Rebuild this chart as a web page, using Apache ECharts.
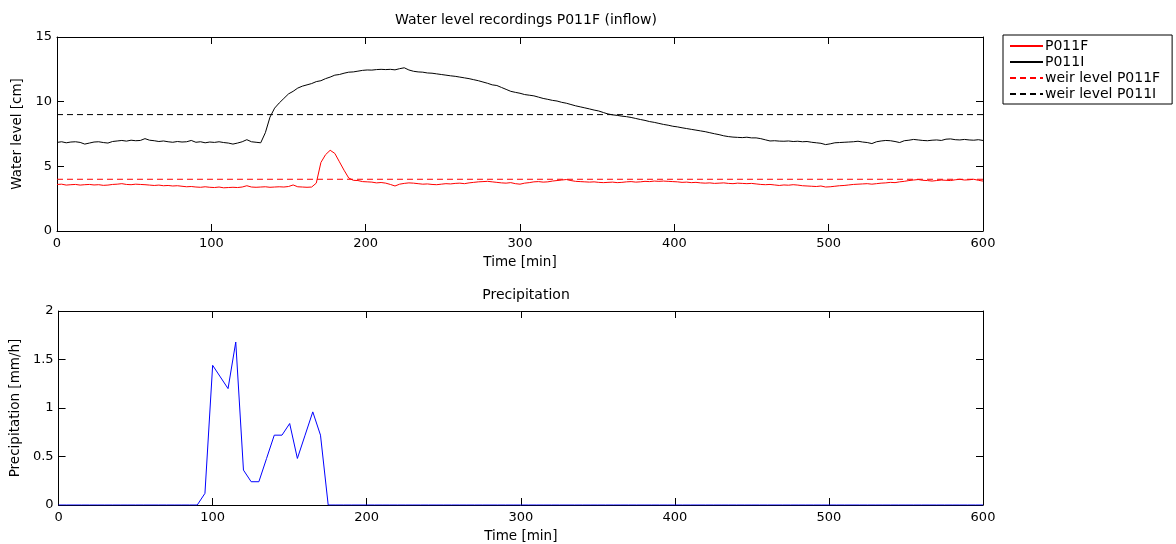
<!DOCTYPE html>
<html>
<head>
<meta charset="utf-8">
<script src="https://cdn.jsdelivr.net/npm/echarts@6/dist/echarts.min.js"></script>
<style>
html,body{margin:0;padding:0;background:#fff;}
#chart{width:1176px;height:544px;}
</style>
</head>
<body>
<div id="chart"></div>
<script>
// ---- Data ----
const xTicks = [0, 100, 200, 300, 400, 500, 600];
const waterStepMin = 3; // sampling step of water level arrays (minutes)
// P011F water level [cm], every 3 min from 0 to 600
const p011F = [
3.6,3.62,3.55,3.58,3.6,3.55,3.58,3.6,3.56,3.58,
3.53,3.55,3.6,3.62,3.66,3.6,3.58,3.62,3.6,3.58,
3.55,3.52,3.55,3.5,3.52,3.48,3.5,3.46,3.42,3.44,
3.4,3.38,3.42,3.38,3.36,3.4,3.34,3.36,3.38,3.36,
3.4,3.5,3.4,3.38,3.4,3.42,3.38,3.4,3.42,3.4,
3.44,3.56,3.42,3.4,3.38,3.4,3.7,5.3,5.9,6.24,
6.0,5.35,4.7,4.1,3.92,3.9,3.82,3.8,3.78,3.72,
3.75,3.7,3.6,3.48,3.62,3.68,3.72,3.7,3.66,3.62,
3.64,3.6,3.58,3.62,3.66,3.64,3.68,3.7,3.66,3.72,
3.76,3.8,3.82,3.84,3.8,3.76,3.72,3.7,3.74,3.66,
3.62,3.7,3.74,3.8,3.82,3.78,3.8,3.86,3.9,3.94,
3.98,3.9,3.84,3.82,3.8,3.78,3.8,3.76,3.74,3.76,
3.78,3.74,3.76,3.8,3.82,3.78,3.8,3.84,3.82,3.86,
3.84,3.86,3.84,3.82,3.8,3.76,3.78,3.74,3.76,3.72,
3.7,3.72,3.68,3.7,3.72,3.68,3.66,3.7,3.68,3.66,
3.68,3.64,3.6,3.58,3.6,3.56,3.52,3.56,3.54,3.58,
3.55,3.5,3.48,3.46,3.44,3.48,3.4,3.42,3.46,3.5,
3.52,3.56,3.6,3.62,3.64,3.66,3.62,3.66,3.7,3.72,
3.76,3.74,3.8,3.84,3.9,3.94,3.98,3.92,3.9,3.86,
3.9,3.94,3.92,3.9,3.96,4.0,3.94,3.96,4.0,3.92,
3.86
];
// P011I water level [cm], every 3 min from 0 to 600
const p011I = [
6.85,6.9,6.82,6.88,6.9,6.85,6.72,6.8,6.88,6.9,
6.84,6.8,6.92,6.96,7.0,6.95,7.02,6.98,7.0,7.14,
7.02,6.98,6.92,6.96,6.9,6.86,6.92,6.88,6.9,7.0,
6.86,6.9,6.82,6.88,6.85,6.9,6.84,6.8,6.72,6.8,
6.9,7.06,6.9,6.86,6.82,7.6,8.8,9.5,9.9,10.25,
10.6,10.8,11.05,11.2,11.3,11.4,11.55,11.62,11.78,11.9,
12.05,12.1,12.2,12.28,12.3,12.36,12.42,12.45,12.44,12.48,
12.5,12.48,12.5,12.46,12.55,12.62,12.45,12.35,12.3,12.28,
12.22,12.2,12.15,12.1,12.05,12.0,11.96,11.9,11.84,11.78,
11.7,11.62,11.52,11.42,11.3,11.25,11.1,10.95,10.8,10.72,
10.65,10.55,10.5,10.45,10.35,10.25,10.18,10.1,10.05,9.95,
9.88,9.78,9.68,9.6,9.52,9.44,9.35,9.28,9.16,9.05,
8.98,8.94,8.88,8.84,8.78,8.7,8.62,8.55,8.46,8.4,
8.32,8.24,8.18,8.1,8.05,7.98,7.92,7.86,7.8,7.74,
7.68,7.6,7.52,7.45,7.36,7.3,7.26,7.24,7.22,7.25,
7.2,7.2,7.14,7.05,6.96,6.98,6.95,6.94,6.96,6.92,
6.94,6.9,6.92,6.86,6.82,6.78,6.68,6.74,6.82,6.84,
6.86,6.88,6.9,6.94,6.88,6.84,6.76,6.9,6.96,7.0,
6.98,6.92,6.84,6.98,7.02,7.08,7.04,7.0,6.98,7.02,
7.04,7.0,7.1,7.12,7.06,7.04,7.08,7.04,7.02,7.06,
7.0
];
const weirP011F = 4;
const weirP011I = 9;
const precipStepMin = 5;
// Precipitation [mm/h], every 5 min from 0 to 600
const precipitation = [
0,0,0,0,0,0,0,0,0,0,
0,0,0,0,0,0,0,0,0,0.12,
1.44,1.32,1.2,1.68,0.36,0.24,0.24,0.48,0.72,0.72,
0.84,0.48,0.72,0.96,0.72,0,0,0,0,0,
0,0,0,0,0,0,0,0,0,0,
0,0,0,0,0,0,0,0,0,0,
0,0,0,0,0,0,0,0,0,0,
0,0,0,0,0,0,0,0,0,0,
0,0,0,0,0,0,0,0,0,0,
0,0,0,0,0,0,0,0,0,0,
0,0,0,0,0,0,0,0,0,0,
0,0,0,0,0,0,0,0,0,0,
0
];

// ---- Build ----
const toPairs = (arr, step) => arr.map((v, i) => [i * step, v]);
const FONT = '"DejaVu Sans", Verdana, sans-serif';
const chart = echarts.init(document.getElementById('chart'), null, {renderer: 'canvas'});

const axisBase = {
  axisLine: {show: true, onZero: false, lineStyle: {color: '#000', width: 1}},
  splitLine: {show: false},
};
function xAxes(gridIndex) {
  return [
    Object.assign({}, axisBase, {
      type: 'value', gridIndex, min: 0, max: 600, interval: 100, position: 'bottom',
      axisTick: {show: true, inside: true, length: 7, lineStyle: {color: '#000'}},
      axisLabel: {color: '#000', fontSize: 13, fontFamily: FONT, margin: 6},
      name: 'Time [min]', nameLocation: 'middle', nameGap: 24,
      nameTextStyle: {color: '#000', fontSize: 13.5, fontFamily: FONT}
    }),
    Object.assign({}, axisBase, {
      type: 'value', gridIndex, min: 0, max: 600, interval: 100, position: 'top',
      axisTick: {show: true, inside: true, length: 7, lineStyle: {color: '#000'}},
      axisLabel: {show: false}
    })
  ];
}
function yAxes(gridIndex, max, interval, name, nameGap) {
  return [
    Object.assign({}, axisBase, {
      type: 'value', gridIndex, min: 0, max, interval, position: 'left',
      axisTick: {show: true, inside: true, length: 7, lineStyle: {color: '#000'}},
      axisLabel: {color: '#000', fontSize: 13, fontFamily: FONT, margin: 5},
      name, nameLocation: 'middle', nameGap, nameRotate: 90,
      nameTextStyle: {color: '#000', fontSize: 13.5, fontFamily: FONT}
    }),
    Object.assign({}, axisBase, {
      type: 'value', gridIndex, min: 0, max, interval, position: 'right',
      axisTick: {show: true, inside: true, length: 7, lineStyle: {color: '#000'}},
      axisLabel: {show: false}
    })
  ];
}

const xs = xAxes(0).concat(xAxes(1));
const ys = yAxes(0, 15, 5, 'Water level [cm]', 26).concat(yAxes(1, 2, 0.5, 'Precipitation [mm/h]', 32));

const option = {
  animation: false,
  backgroundColor: '#fff',
  textStyle: {fontFamily: FONT},
  title: [
    {text: 'Water level recordings P011F (inflow)', left: 521, top: 8, textAlign: 'center',
     textStyle: {color: '#000', fontSize: 14, fontWeight: 'normal', fontFamily: FONT}},
    {text: 'Precipitation', left: 521, top: 283, textAlign: 'center',
     textStyle: {color: '#000', fontSize: 14, fontWeight: 'normal', fontFamily: FONT}}
  ],
  grid: [
    {left: 57, top: 37, width: 926, height: 194},
    {left: 57, top: 311, width: 926, height: 194}
  ],
  legend: {
    orient: 'vertical', left: 1003, top: 35,
    data: ['P011F', 'P011I', 'weir level P011F', 'weir level P011I'],
    itemWidth: 33, itemHeight: 10, itemGap: 2,
    borderColor: '#000', borderWidth: 1, padding: [4, 12, 3, 6],
    backgroundColor: '#fff',
    textStyle: {color: '#000', fontSize: 14, fontFamily: FONT, padding: [0, 0, 0, -3]}
  },
  xAxis: xs.map((a, i) => Object.assign(a, {gridIndex: i < 2 ? 0 : 1})),
  yAxis: ys.map((a, i) => Object.assign(a, {gridIndex: i < 2 ? 0 : 1})),
  series: [
    {name: 'P011F', type: 'line', xAxisIndex: 0, yAxisIndex: 0, showSymbol: false, symbol: 'none',
     data: toPairs(p011F, waterStepMin), lineStyle: {color: '#ff0000', width: 1}, itemStyle: {color: 'transparent'}},
    {name: 'P011I', type: 'line', xAxisIndex: 0, yAxisIndex: 0, showSymbol: false, symbol: 'none',
     data: toPairs(p011I, waterStepMin), lineStyle: {color: '#000000', width: 1}, itemStyle: {color: 'transparent'}},
    {name: 'weir level P011F', type: 'line', xAxisIndex: 0, yAxisIndex: 0, showSymbol: false, symbol: 'none',
     data: [[0, weirP011F], [600, weirP011F]], lineStyle: {color: '#ff0000', width: 1, type: [6, 4]}, itemStyle: {color: 'transparent'}},
    {name: 'weir level P011I', type: 'line', xAxisIndex: 0, yAxisIndex: 0, showSymbol: false, symbol: 'none',
     data: [[0, weirP011I], [600, weirP011I]], lineStyle: {color: '#000000', width: 1, type: [6, 4]}, itemStyle: {color: 'transparent'}},
    {name: 'Precipitation', type: 'line', xAxisIndex: 2, yAxisIndex: 2, showSymbol: false, symbol: 'none',
     data: toPairs(precipitation, precipStepMin), lineStyle: {color: '#0000ff', width: 1}, itemStyle: {color: 'transparent'}}
  ]
};
chart.setOption(option);
</script>
</body>
</html>
